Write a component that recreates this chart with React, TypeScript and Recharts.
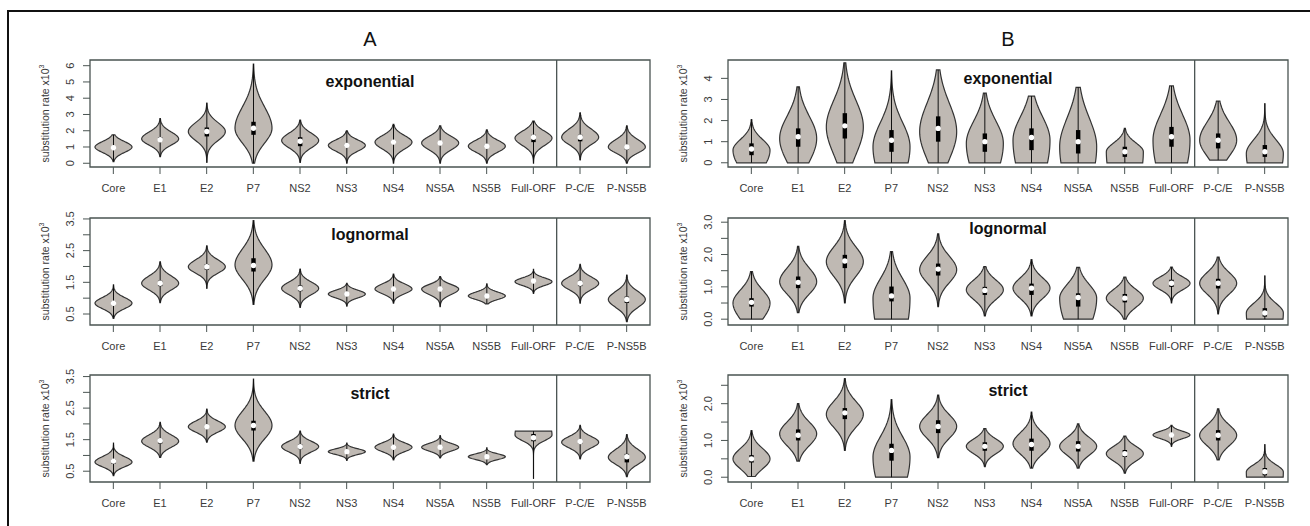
import React from 'react';
import { ComposedChart, Bar, XAxis, YAxis, ReferenceLine, ReferenceArea } from 'recharts';

const genes = ['Core', 'E1', 'E2', 'P7', 'NS2', 'NS3', 'NS4', 'NS5A', 'NS5B', 'Full-ORF', 'P-C/E', 'P-NS5B'];

// each row: [min, q1, median, q3, max, mode, spread below mode, spread above mode]
const expA = [
  [0.1, 0.85, 0.95, 1.05, 1.75, 1.0, 0.33, 0.33],
  [0.4, 1.35, 1.45, 1.6, 2.75, 1.5, 0.38, 0.42],
  [0.05, 1.65, 1.95, 2.2, 3.7, 1.95, 0.55, 0.55],
  [0.0, 1.75, 2.15, 2.55, 6.1, 2.15, 0.9, 1.3],
  [0.05, 1.05, 1.35, 1.6, 2.65, 1.4, 0.45, 0.45],
  [0.0, 1.0, 1.1, 1.2, 2.0, 1.1, 0.35, 0.33],
  [0.0, 1.2, 1.3, 1.4, 2.4, 1.3, 0.42, 0.4],
  [0.0, 1.15, 1.25, 1.35, 2.3, 1.25, 0.42, 0.4],
  [0.0, 0.95, 1.05, 1.15, 2.05, 1.05, 0.36, 0.36],
  [0.0, 1.3, 1.6, 1.75, 2.6, 1.55, 0.45, 0.42],
  [0.2, 1.35, 1.6, 1.75, 3.1, 1.6, 0.45, 0.5],
  [0.0, 0.85, 1.0, 1.1, 2.3, 1.0, 0.36, 0.45],
];
const lognA = [
  [0.36, 0.78, 0.84, 0.9, 1.42, 0.84, 0.17, 0.18],
  [0.86, 1.38, 1.47, 1.55, 2.15, 1.47, 0.21, 0.23],
  [1.31, 1.9, 1.99, 2.07, 2.65, 1.99, 0.2, 0.22],
  [0.8, 1.84, 2.03, 2.26, 3.45, 2.05, 0.45, 0.5],
  [0.71, 1.22, 1.31, 1.4, 1.92, 1.31, 0.2, 0.2],
  [0.75, 1.08, 1.13, 1.18, 1.47, 1.13, 0.12, 0.12],
  [0.84, 1.23, 1.29, 1.35, 1.76, 1.29, 0.15, 0.16],
  [0.73, 1.23, 1.29, 1.35, 1.68, 1.29, 0.17, 0.14],
  [0.82, 1.02, 1.07, 1.12, 1.45, 1.07, 0.11, 0.12],
  [1.15, 1.48, 1.54, 1.58, 1.91, 1.52, 0.12, 0.12],
  [0.84, 1.38, 1.47, 1.55, 2.07, 1.47, 0.2, 0.2],
  [0.26, 0.85, 0.96, 1.05, 1.73, 0.96, 0.25, 0.25],
];
const strictA = [
  [0.36, 0.74, 0.82, 0.88, 1.39, 0.79, 0.15, 0.17],
  [0.94, 1.38, 1.47, 1.53, 2.05, 1.45, 0.19, 0.2],
  [1.42, 1.85, 1.91, 1.97, 2.47, 1.91, 0.17, 0.18],
  [0.82, 1.79, 1.95, 2.1, 3.42, 1.95, 0.42, 0.45],
  [0.75, 1.2, 1.28, 1.35, 1.77, 1.28, 0.17, 0.17],
  [0.84, 1.08, 1.12, 1.16, 1.39, 1.12, 0.09, 0.09],
  [0.86, 1.2, 1.26, 1.32, 1.68, 1.26, 0.14, 0.14],
  [0.92, 1.21, 1.26, 1.31, 1.63, 1.26, 0.12, 0.12],
  [0.71, 0.92, 0.96, 1.0, 1.24, 0.96, 0.09, 0.09],
  [0.26, 1.45, 1.56, 1.68, 1.77, 1.65, 0.18, 0.6],
  [0.89, 1.37, 1.44, 1.5, 1.95, 1.42, 0.18, 0.18],
  [0.33, 0.78, 0.96, 1.05, 1.66, 0.94, 0.22, 0.25],
];
const expB = [
  [0, 0.36, 0.65, 0.92, 2.05, 0.6, 0.9, 0.5],
  [0, 0.76, 1.23, 1.63, 3.6, 1.15, 1.1, 1.05],
  [0, 1.15, 1.75, 2.35, 4.74, 1.7, 1.3, 1.25],
  [0, 0.52, 1.07, 1.55, 4.35, 0.75, 1.6, 1.15],
  [0, 1.0, 1.63, 2.2, 4.4, 1.47, 1.3, 1.35],
  [0, 0.52, 1.0, 1.39, 3.3, 0.92, 1.6, 1.05],
  [0, 0.6, 1.2, 1.63, 3.16, 1.07, 2.0, 1.1],
  [0, 0.44, 1.0, 1.55, 3.57, 0.76, 2.0, 1.35],
  [0, 0.28, 0.52, 0.76, 1.63, 0.52, 2.0, 0.42],
  [0, 0.76, 1.23, 1.7, 3.64, 1.07, 2.0, 1.2],
  [0.13, 0.68, 1.07, 1.39, 2.92, 1.07, 0.75, 0.85],
  [0, 0.28, 0.52, 0.84, 2.8, 0.44, 1.5, 0.65],
];
const lognB = [
  [0, 0.39, 0.52, 0.65, 1.47, 0.5, 0.5, 0.4],
  [0.2, 0.96, 1.14, 1.32, 2.25, 1.16, 0.38, 0.42],
  [0.5, 1.58, 1.8, 1.99, 3.05, 1.78, 0.45, 0.45],
  [0, 0.55, 0.72, 1.01, 2.09, 0.65, 1.5, 0.6],
  [0.39, 1.35, 1.55, 1.72, 2.64, 1.53, 0.4, 0.42],
  [0.1, 0.75, 0.89, 1.0, 1.63, 0.91, 0.3, 0.3],
  [0.1, 0.75, 0.96, 1.1, 1.84, 0.96, 0.32, 0.32],
  [0, 0.39, 0.67, 0.8, 1.6, 0.65, 0.95, 0.42],
  [0, 0.52, 0.65, 0.78, 1.3, 0.65, 0.28, 0.27],
  [0.5, 1.0, 1.11, 1.22, 1.61, 1.11, 0.2, 0.2],
  [0.16, 0.95, 1.11, 1.25, 1.92, 1.11, 0.33, 0.33],
  [0, 0.08, 0.19, 0.34, 1.34, 0.19, 1.0, 0.3],
];
const strictB = [
  [0.02, 0.4, 0.5, 0.6, 1.27, 0.5, 0.27, 0.28],
  [0.44, 1.0, 1.14, 1.3, 2.0, 1.18, 0.32, 0.32],
  [0.73, 1.58, 1.75, 1.88, 2.68, 1.71, 0.35, 0.35],
  [0, 0.45, 0.73, 0.91, 2.11, 0.55, 1.0, 0.55],
  [0.53, 1.2, 1.38, 1.55, 2.23, 1.38, 0.32, 0.32],
  [0.29, 0.72, 0.84, 0.95, 1.32, 0.84, 0.2, 0.2],
  [0.25, 0.72, 0.89, 1.05, 1.77, 0.91, 0.28, 0.3],
  [0.25, 0.7, 0.84, 0.98, 1.45, 0.84, 0.24, 0.24],
  [0.11, 0.55, 0.64, 0.74, 1.12, 0.64, 0.2, 0.2],
  [0.84, 1.1, 1.15, 1.2, 1.41, 1.15, 0.1, 0.1],
  [0.47, 1.0, 1.14, 1.28, 1.86, 1.14, 0.28, 0.28],
  [0, 0.05, 0.15, 0.25, 0.89, 0.14, 1.0, 0.2],
];

const FONT = '"Liberation Sans", Arial, sans-serif';
const INK = '#3a3a3a';
const FRAME = '#4a5452';
const PAD = 12;

const Violin = (props: any) => {
  const { x, y, width, height, payload } = props;
  const [lo, q1, med, q3, hi, mode, sdLo, sdHi] = payload.v;
  const top = Math.min(y, y + height);
  const bot = Math.max(y, y + height);
  const py = (v: number) => bot - ((v - lo) / (hi - lo)) * (bot - top);
  const cx = x + width / 2;
  const half = width / 2;
  const right: string[] = [];
  const left: string[] = [];
  const n = 60;
  for (let i = 0; i <= n; i++) {
    const v = lo + ((hi - lo) * i) / n;
    const s = v < mode ? sdLo : sdHi;
    const w = half * Math.exp(-0.5 * ((v - mode) / s) ** 2);
    right.push(`${(cx + w).toFixed(2)},${py(v).toFixed(2)}`);
    left.unshift(`${(cx - w).toFixed(2)},${py(v).toFixed(2)}`);
  }
  const d = `M${right.join('L')}L${left.join('L')}Z`;
  return (
    <g>
      <path d={d} fill="#bfb9b3" stroke="#333" strokeWidth={1.2} />
      <line x1={cx} x2={cx} y1={py(lo)} y2={py(hi)} stroke="#111" strokeWidth={1} />
      <rect x={cx - 2.2} width={4.4} y={py(q3)} height={py(q1) - py(q3)} fill="#000" />
      <circle cx={cx} cy={py(med)} r={2.7} fill="#fff" />
    </g>
  );
};

const XTick = ({ x, y, payload }: any) => (
  <text x={x} y={y + 16} textAnchor="middle" fontSize={11} fill={INK} fontFamily={FONT}>
    {payload.value}
  </text>
);

const makeYTick = (labels: number[], fmt: (v: number) => string) => ({ x, y, payload }: any) =>
  labels.includes(payload.value) ? (
    <text
      x={x}
      y={y}
      transform={`rotate(-90 ${x} ${y})`}
      textAnchor="middle"
      dominantBaseline="central"
      fontSize={11}
      fill={INK}
      fontFamily={FONT}
    >
      {fmt(payload.value)}
    </text>
  ) : (
    <g />
  );

const YTitle = ({ viewBox }: any) => {
  const x = viewBox.x + viewBox.width - 45;
  const cy = viewBox.y + viewBox.height / 2;
  return (
    <text
      x={x}
      y={cy}
      transform={`rotate(-90 ${x} ${cy})`}
      textAnchor="middle"
      dominantBaseline="central"
      fontSize={10.5}
      fill={INK}
      fontFamily={FONT}
    >
      substitution rate x10<tspan dy={-4} fontSize={7}>3</tspan>
    </text>
  );
};

const PanelTitle = ({ viewBox, text }: any) => (
  <text
    x={viewBox.x + viewBox.width / 2}
    y={viewBox.y + viewBox.height / 2}
    textAnchor="middle"
    dominantBaseline="central"
    fontSize={16}
    fontWeight="bold"
    fill="#111"
    fontFamily={FONT}
  >
    {text}
  </text>
);

type PanelProps = {
  rows: number[][];
  domain: [number, number];
  ticks: number[];
  labels: number[];
  fmt: (v: number) => string;
  title: string;
  titleAt: number;
  left: number;
  top: number;
};

function Panel({ rows, domain, ticks, labels, fmt, title, titleAt, left, top }: PanelProps) {
  const data = genes.map((name, i) => ({ name, range: [rows[i][0], rows[i][4]], v: rows[i] }));
  return (
    <div style={{ position: 'absolute', left, top: top - PAD }}>
      <ComposedChart width={622} height={142 + PAD} data={data} margin={{ top: PAD, right: 2, bottom: 0, left: 0 }}>
        <XAxis
          dataKey="name"
          height={35}
          stroke={FRAME}
          axisLine={false}
          tickSize={7}
          tickMargin={2}
          interval={0}
          tick={<XTick />}
        />
        <YAxis
          type="number"
          domain={domain}
          ticks={ticks}
          allowDataOverflow
          width={60}
          stroke={FRAME}
          axisLine={false}
          tickSize={7}
          tickMargin={13}
          interval={0}
          tick={makeYTick(labels, fmt)}
          label={<YTitle />}
        />
        <ReferenceArea
          x1="Core"
          x2="P-NS5B"
          y1={domain[0]}
          y2={domain[1]}
          fill="none"
          fillOpacity={0}
          stroke={FRAME}
          strokeWidth={1.3}
          ifOverflow="visible"
        />
        <ReferenceLine x="P-C/E" position="start" stroke={FRAME} strokeWidth={1.3} />
        <ReferenceLine
          segment={[{ x: 'NS3', y: titleAt }, { x: 'NS4', y: titleAt }]}
          stroke="none"
          ifOverflow="visible"
          label={<PanelTitle text={title} />}
        />
        <Bar dataKey="range" barSize={37} shape={<Violin />} isAnimationActive={false} />
      </ComposedChart>
    </div>
  );
}

const intFmt = (v: number) => String(v);
const oneDec = (v: number) => v.toFixed(1);

export default function App() {
  return (
    <div
      style={{
        position: 'absolute',
        left: 0,
        top: 0,
        width: 1310,
        height: 526,
        background: '#fff',
        fontFamily: FONT,
        overflow: 'hidden',
      }}
    >
      <div
        style={{
          position: 'absolute',
          left: 7,
          top: 10,
          width: 1320,
          height: 540,
          border: '2px solid #111',
        }}
      />
      <div style={{ position: 'absolute', left: 350, top: 28, width: 40, textAlign: 'center', fontSize: 20, color: '#111' }}>A</div>
      <div style={{ position: 'absolute', left: 988, top: 28, width: 40, textAlign: 'center', fontSize: 20, color: '#111' }}>B</div>

      <Panel rows={expA} domain={[-0.23, 6.35]} ticks={[0, 1, 2, 3, 4, 5, 6]} labels={[0, 1, 2, 3, 4, 5, 6]} fmt={intFmt} title="exponential" titleAt={5.0} left={30} top={60} />
      <Panel rows={lognA} domain={[0.153, 3.53]} ticks={[0.5, 1, 1.5, 2, 2.5, 3, 3.5]} labels={[0.5, 1.5, 2.5, 3.5]} fmt={oneDec} title="lognormal" titleAt={3.0} left={30} top={218} />
      <Panel rows={strictA} domain={[0.158, 3.55]} ticks={[0.5, 1, 1.5, 2, 2.5, 3, 3.5]} labels={[0.5, 1.5, 2.5, 3.5]} fmt={oneDec} title="strict" titleAt={2.95} left={30} top={374.5} />

      <Panel rows={expB} domain={[-0.2, 4.87]} ticks={[0, 1, 2, 3, 4]} labels={[0, 1, 2, 3, 4]} fmt={intFmt} title="exponential" titleAt={3.97} left={668.3} top={60} />
      <Panel rows={lognB} domain={[-0.18, 3.13]} ticks={[0, 0.5, 1, 1.5, 2, 2.5, 3]} labels={[0, 1, 2, 3]} fmt={oneDec} title="lognormal" titleAt={2.79} left={668.3} top={218} />
      <Panel rows={strictB} domain={[-0.13, 2.78]} ticks={[0, 0.5, 1, 1.5, 2, 2.5]} labels={[0, 1, 2]} fmt={oneDec} title="strict" titleAt={2.36} left={668.3} top={374.5} />
    </div>
  );
}
